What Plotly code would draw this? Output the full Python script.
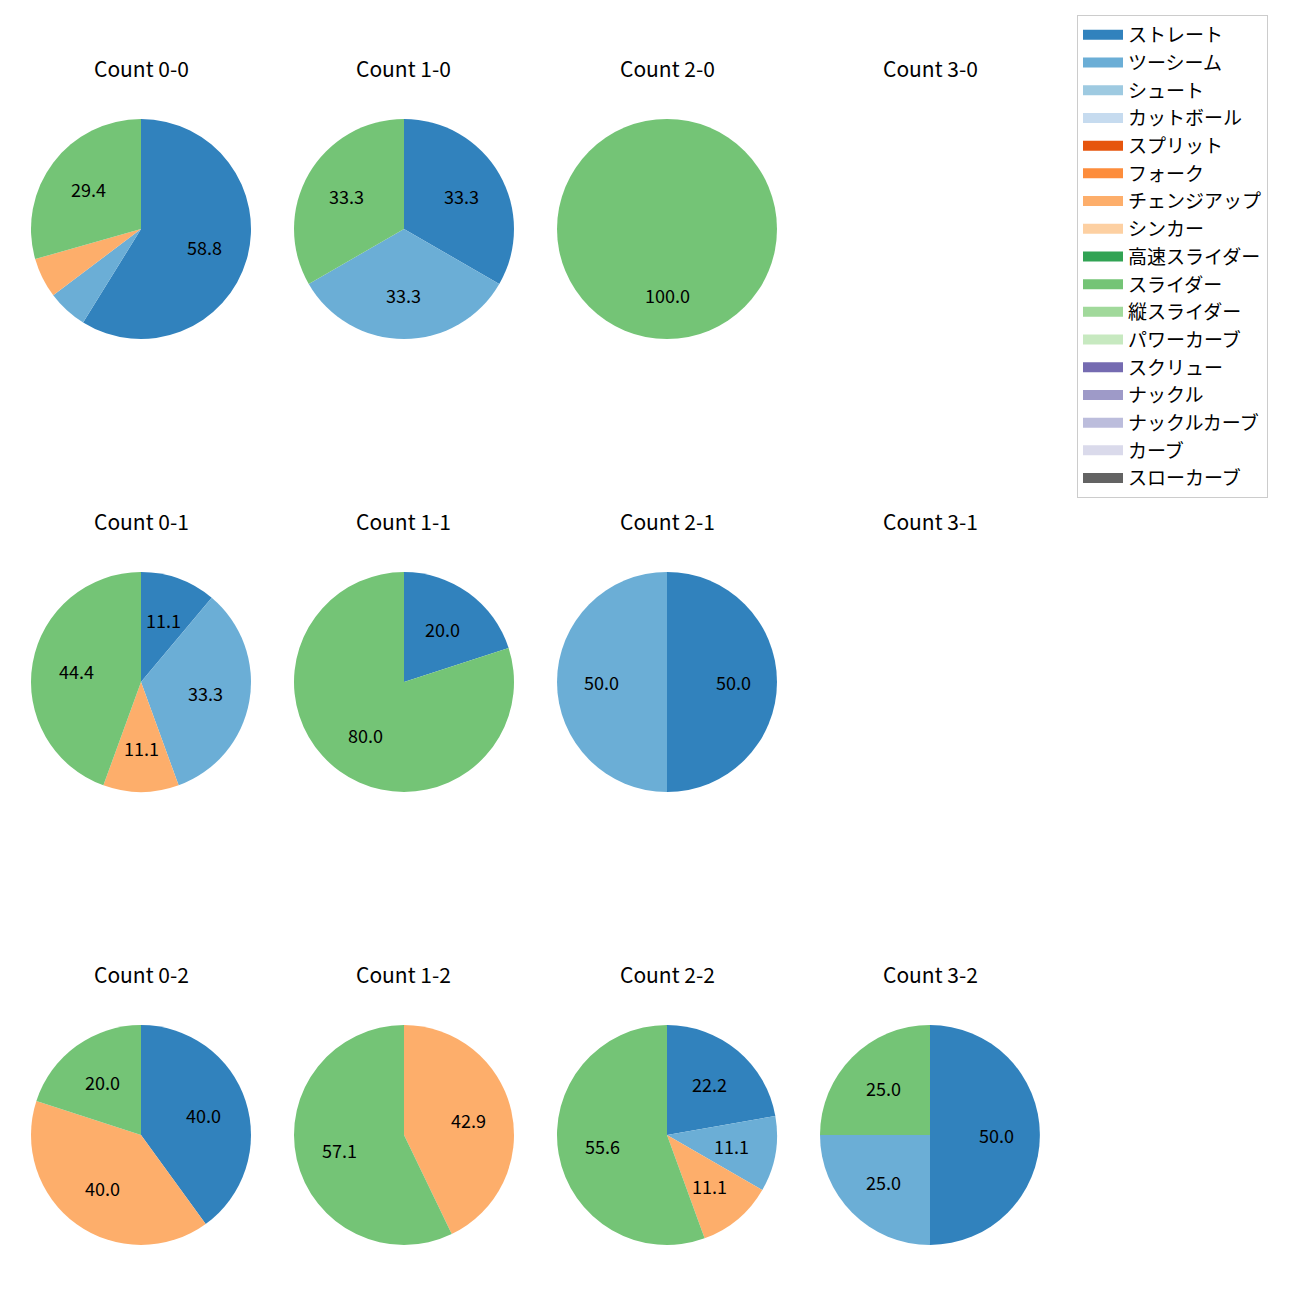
import math
import plotly.graph_objects as go

pitch_types = ["ストレート", "ツーシーム", "シュート", "カットボール", "スプリット", "フォーク",
               "チェンジアップ", "シンカー", "高速スライダー", "スライダー", "縦スライダー",
               "パワーカーブ", "スクリュー", "ナックル", "ナックルカーブ", "カーブ", "スローカーブ"]
colors = ["#3182bd", "#6baed6", "#9ecae1", "#c6dbef", "#e6550d", "#fd8d3c", "#fdae6b", "#fdd0a2",
          "#31a354", "#74c476", "#a1d99b", "#c7e9c0", "#756bb1", "#9e9ac8", "#bcbddc", "#dadaeb",
          "#636363"]

count_titles = [["Count 0-0", "Count 1-0", "Count 2-0", "Count 3-0"],
                ["Count 0-1", "Count 1-1", "Count 2-1", "Count 3-1"],
                ["Count 0-2", "Count 1-2", "Count 2-2", "Count 3-2"]]


def vec(d):
    return [d.get(p, 0) for p in pitch_types]


count_values = [
    [vec({"ストレート": 10, "ツーシーム": 1, "チェンジアップ": 1, "スライダー": 5}),
     vec({"ストレート": 1, "ツーシーム": 1, "スライダー": 1}),
     vec({"スライダー": 1}),
     None],
    [vec({"ストレート": 1, "ツーシーム": 3, "チェンジアップ": 1, "スライダー": 4}),
     vec({"ストレート": 1, "スライダー": 4}),
     vec({"ストレート": 1, "ツーシーム": 1}),
     None],
    [vec({"ストレート": 2, "チェンジアップ": 2, "スライダー": 1}),
     vec({"チェンジアップ": 3, "スライダー": 4}),
     vec({"ストレート": 2, "ツーシーム": 1, "チェンジアップ": 1, "スライダー": 5}),
     vec({"ストレート": 2, "ツーシーム": 1, "スライダー": 1})],
]

W = 1300.0
col_centers = [141, 404, 667, 930]
row_centers = [229, 682, 1135]
R = 110
FONT = "Noto Sans CJK JP"

fig = go.Figure()
annotations = []
for r in range(3):
    for c in range(4):
        cx, cy = col_centers[c], row_centers[r]
        annotations.append(dict(text=count_titles[r][c], x=cx / W, y=1 - (cy - 161) / W,
                                xref="paper", yref="paper", showarrow=False,
                                font=dict(size=21, color="black", family=FONT),
                                xanchor="center", yanchor="middle"))
        vals = count_values[r][c]
        if vals is None:
            continue
        tot = sum(vals)
        fig.add_trace(go.Pie(
            labels=pitch_types, values=vals, textinfo="none",
            marker=dict(colors=colors, line=dict(width=0)),
            sort=False, direction="clockwise", rotation=0,
            domain=dict(x=[(cx - R) / W, (cx + R) / W], y=[1 - (cy + R) / W, 1 - (cy - R) / W]),
            showlegend=False, hoverinfo="label+percent",
        ))
        # percentage labels placed like matplotlib autopct (pctdistance 0.6)
        cum = 0.0
        for v in vals:
            if v <= 0:
                continue
            pct = v / tot * 100
            mid = math.radians(90 - 360 * (cum + v / 2) / tot)
            cum += v
            if pct < 10:
                continue
            px = cx + 0.6 * R * math.cos(mid)
            py = cy - 0.6 * R * math.sin(mid)
            annotations.append(dict(text=f"{pct:.1f}", x=px / W, y=1 - py / W,
                                    xref="paper", yref="paper", showarrow=False,
                                    font=dict(size=18, color="black", family=FONT),
                                    xanchor="center", yanchor="middle"))

for i, (p, col) in enumerate(zip(pitch_types, colors)):
    fig.add_trace(go.Scatter(x=[None], y=[None], mode="lines", name=p,
                             line=dict(color=col, width=14), legendgroup=f"g{i}",
                             showlegend=True))

fig.update_layout(
    width=1300, height=1300,
    margin=dict(l=0, r=0, t=0, b=0),
    paper_bgcolor="white", plot_bgcolor="white",
    xaxis=dict(visible=False), yaxis=dict(visible=False),
    annotations=annotations,
    legend=dict(x=1077 / W, y=1 - 15 / W, xanchor="left", yanchor="top",
                bordercolor="#cccccc", borderwidth=1, tracegroupgap=0,
                traceorder="grouped", itemwidth=40,
                font=dict(size=19, color="black", family=FONT)),
)

fig.write_html("out.html")
